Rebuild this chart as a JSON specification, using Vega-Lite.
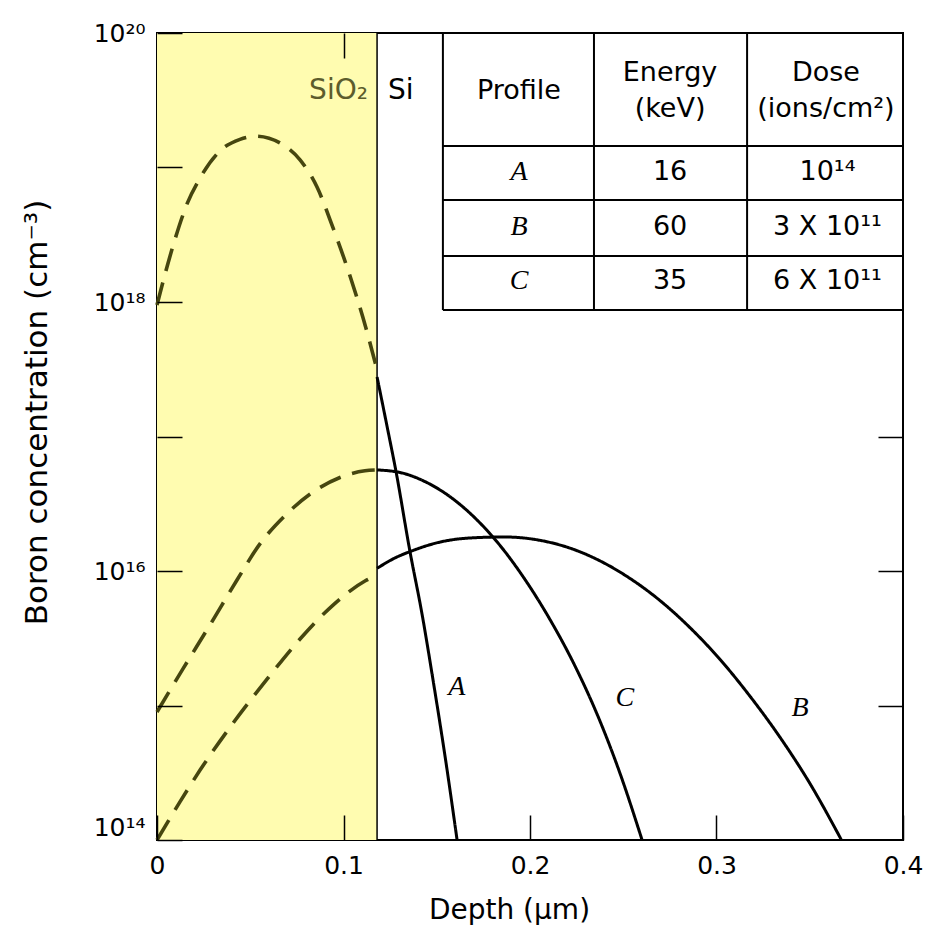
{
  "$schema": "https://vega.github.io/schema/vega-lite/v6.json",
  "width": 746,
  "height": 807,
  "autosize": "none",
  "padding": {"left": 157, "top": 33, "right": 30, "bottom": 93},
  "background": "#ffffff",
  "config": {
    "font": "DejaVu Sans",
    "view": {"stroke": "#000000", "strokeWidth": 2},
    "axis": {"grid": false, "domain": false, "labelFlush": false, "labelColor": "#000000", "titleColor": "#000000", "tickColor": "#000000", "tickWidth": 1.5, "labelFont": "DejaVu Sans", "titleFont": "DejaVu Sans", "labelFontSize": 25, "titleFontSize": 28, "titleFontWeight": "normal"},
    "text": {"font": "DejaVu Sans"}
  },
  "datasets": {
    "oxide": [{"start": 0, "end": 0.118}],
    "profiles": [
      {"profile": "A", "region": "SiO2", "depth": 0, "conc": 9.51e17},
      {"profile": "A", "region": "SiO2", "depth": 0.0043, "conc": 1.61e18},
      {"profile": "A", "region": "SiO2", "depth": 0.0097, "conc": 2.94e18},
      {"profile": "A", "region": "SiO2", "depth": 0.0161, "conc": 5.36e18},
      {"profile": "A", "region": "SiO2", "depth": 0.0231, "conc": 8.36e18},
      {"profile": "A", "region": "SiO2", "depth": 0.0338, "conc": 1.33e19},
      {"profile": "A", "region": "SiO2", "depth": 0.0445, "conc": 1.62e19},
      {"profile": "A", "region": "SiO2", "depth": 0.0531, "conc": 1.71e19},
      {"profile": "A", "region": "SiO2", "depth": 0.066, "conc": 1.52e19},
      {"profile": "A", "region": "SiO2", "depth": 0.0767, "conc": 1.14e19},
      {"profile": "A", "region": "SiO2", "depth": 0.0858, "conc": 7.16e18},
      {"profile": "A", "region": "SiO2", "depth": 0.0944, "conc": 3.55e18},
      {"profile": "A", "region": "SiO2", "depth": 0.1035, "conc": 1.56e18},
      {"profile": "A", "region": "SiO2", "depth": 0.1105, "conc": 7.6e17},
      {"profile": "A", "region": "SiO2", "depth": 0.118, "conc": 3.12e17},
      {"profile": "A", "region": "Si", "depth": 0.118, "conc": 2.77e17},
      {"profile": "A", "region": "Si", "depth": 0.1232, "conc": 1.22e17},
      {"profile": "A", "region": "Si", "depth": 0.1283, "conc": 5.36e16},
      {"profile": "A", "region": "Si", "depth": 0.1355, "conc": 1.43e16},
      {"profile": "A", "region": "Si", "depth": 0.1422, "conc": 4.71e15},
      {"profile": "A", "region": "Si", "depth": 0.148, "conc": 1.55e15},
      {"profile": "A", "region": "Si", "depth": 0.155, "conc": 3.73e14},
      {"profile": "A", "region": "Si", "depth": 0.1609, "conc": 1.0e14},
      {"profile": "B", "region": "SiO2", "depth": 0, "conc": 1.0e14},
      {"profile": "B", "region": "SiO2", "depth": 0.0123, "conc": 1.92e14},
      {"profile": "B", "region": "SiO2", "depth": 0.0231, "conc": 3.31e14},
      {"profile": "B", "region": "SiO2", "depth": 0.0408, "conc": 7.41e14},
      {"profile": "B", "region": "SiO2", "depth": 0.059, "conc": 1.57e15},
      {"profile": "B", "region": "SiO2", "depth": 0.0767, "conc": 3.12e15},
      {"profile": "B", "region": "SiO2", "depth": 0.0944, "conc": 5.58e15},
      {"profile": "B", "region": "SiO2", "depth": 0.1115, "conc": 8.43e15},
      {"profile": "B", "region": "SiO2", "depth": 0.118, "conc": 9.33e15},
      {"profile": "B", "region": "Si", "depth": 0.118, "conc": 1.047e16},
      {"profile": "B", "region": "Si", "depth": 0.1276, "conc": 1.25e16},
      {"profile": "B", "region": "Si", "depth": 0.1366, "conc": 1.41e16},
      {"profile": "B", "region": "Si", "depth": 0.1517, "conc": 1.64e16},
      {"profile": "B", "region": "Si", "depth": 0.1678, "conc": 1.76e16},
      {"profile": "B", "region": "Si", "depth": 0.1866, "conc": 1.79e16},
      {"profile": "B", "region": "Si", "depth": 0.2054, "conc": 1.69e16},
      {"profile": "B", "region": "Si", "depth": 0.2214, "conc": 1.48e16},
      {"profile": "B", "region": "Si", "depth": 0.2375, "conc": 1.19e16},
      {"profile": "B", "region": "Si", "depth": 0.2536, "conc": 8.81e15},
      {"profile": "B", "region": "Si", "depth": 0.2697, "conc": 6.03e15},
      {"profile": "B", "region": "Si", "depth": 0.2858, "conc": 3.79e15},
      {"profile": "B", "region": "Si", "depth": 0.3019, "conc": 2.2e15},
      {"profile": "B", "region": "Si", "depth": 0.318, "conc": 1.17e15},
      {"profile": "B", "region": "Si", "depth": 0.3341, "conc": 5.79e14},
      {"profile": "B", "region": "Si", "depth": 0.3501, "conc": 2.63e14},
      {"profile": "B", "region": "Si", "depth": 0.367, "conc": 1.0e14},
      {"profile": "C", "region": "SiO2", "depth": 0, "conc": 8.95e14},
      {"profile": "C", "region": "SiO2", "depth": 0.0139, "conc": 1.87e15},
      {"profile": "C", "region": "SiO2", "depth": 0.0284, "conc": 3.97e15},
      {"profile": "C", "region": "SiO2", "depth": 0.0429, "conc": 8.57e15},
      {"profile": "C", "region": "SiO2", "depth": 0.0552, "conc": 1.59e16},
      {"profile": "C", "region": "SiO2", "depth": 0.0686, "conc": 2.58e16},
      {"profile": "C", "region": "SiO2", "depth": 0.0836, "conc": 3.86e16},
      {"profile": "C", "region": "SiO2", "depth": 0.0981, "conc": 4.96e16},
      {"profile": "C", "region": "SiO2", "depth": 0.1115, "conc": 5.56e16},
      {"profile": "C", "region": "SiO2", "depth": 0.118, "conc": 5.64e16},
      {"profile": "C", "region": "Si", "depth": 0.118, "conc": 5.64e16},
      {"profile": "C", "region": "Si", "depth": 0.1303, "conc": 5.4e16},
      {"profile": "C", "region": "Si", "depth": 0.1437, "conc": 4.62e16},
      {"profile": "C", "region": "Si", "depth": 0.1571, "conc": 3.57e16},
      {"profile": "C", "region": "Si", "depth": 0.1705, "conc": 2.48e16},
      {"profile": "C", "region": "Si", "depth": 0.1839, "conc": 1.55e16},
      {"profile": "C", "region": "Si", "depth": 0.1973, "conc": 8.65e15},
      {"profile": "C", "region": "Si", "depth": 0.2107, "conc": 4.36e15},
      {"profile": "C", "region": "Si", "depth": 0.2241, "conc": 1.97e15},
      {"profile": "C", "region": "Si", "depth": 0.2375, "conc": 7.67e14},
      {"profile": "C", "region": "Si", "depth": 0.2483, "conc": 3.12e14},
      {"profile": "C", "region": "Si", "depth": 0.2601, "conc": 1.0e14}
    ],
    "tableGrid": [
      {"x1": 0.1533, "x2": 0.4, "y1": 1.445e19, "y2": 1.445e19},
      {"x1": 0.1533, "x2": 0.4, "y1": 5.73e18, "y2": 5.73e18},
      {"x1": 0.1533, "x2": 0.4, "y1": 2.2e18, "y2": 2.2e18},
      {"x1": 0.1533, "x2": 0.4, "y1": 8.73e17, "y2": 8.73e17},
      {"x1": 0.1533, "x2": 0.1533, "y1": 1e20, "y2": 8.73e17},
      {"x1": 0.2343, "x2": 0.2343, "y1": 1e20, "y2": 8.73e17},
      {"x1": 0.3164, "x2": 0.3164, "y1": 1e20, "y2": 8.73e17}
    ],
    "tableText": [
      {"x": 0.1941, "y": 3.71e19, "label": "Profile"},
      {"x": 0.2751, "y": 5.08e19, "label": "Energy"},
      {"x": 0.2751, "y": 2.72e19, "label": "(keV)"},
      {"x": 0.3587, "y": 5.08e19, "label": "Dose"},
      {"x": 0.3587, "y": 2.72e19, "label": "(ions/cm²)"},
      {"x": 0.2751, "y": 9.18e18, "label": "16"},
      {"x": 0.2751, "y": 3.61e18, "label": "60"},
      {"x": 0.2751, "y": 1.43e18, "label": "35"},
      {"x": 0.3595, "y": 9.18e18, "label": "10¹⁴"},
      {"x": 0.3595, "y": 3.61e18, "label": "3 X 10¹¹"},
      {"x": 0.3595, "y": 1.43e18, "label": "6 X 10¹¹"}
    ],
    "letters": [
      {"x": 0.1941, "y": 9.18e18, "label": "A"},
      {"x": 0.1941, "y": 3.61e18, "label": "B"},
      {"x": 0.1941, "y": 1.43e18, "label": "C"},
      {"x": 0.1607, "y": 1.38e15, "label": "A"},
      {"x": 0.2509, "y": 1.14e15, "label": "C"},
      {"x": 0.3448, "y": 9.57e14, "label": "B"}
    ],
    "regionLabels": [
      {"x": 0.1131, "y": 3.71e19, "label": "SiO₂", "region": "SiO2"},
      {"x": 0.1239, "y": 3.71e19, "label": "Si", "region": "Si"}
    ]
  },
  "layer": [
    {
      "data": {"name": "oxide"},
      "mark": {"type": "rect", "fill": "#fffcb0"},
      "encoding": {
        "x": {"field": "start", "type": "quantitative", "scale": {"domain": [0, 0.4], "nice": false, "zero": false}, "axis": null},
        "x2": {"field": "end"}
      }
    },
    {
      "data": {"name": "oxide"},
      "mark": {"type": "rule", "stroke": "#000000", "strokeWidth": 1.5},
      "encoding": {
        "x": {"field": "end", "type": "quantitative", "axis": null}
      }
    },
    {
      "data": {"name": "profiles"},
      "mark": {"type": "line", "interpolate": "monotone", "strokeCap": "butt"},
      "encoding": {
        "x": {"field": "depth", "type": "quantitative", "scale": {"domain": [0, 0.4], "nice": false, "zero": false},
          "axis": {"orient": "bottom", "zindex": 1, "values": [0, 0.1, 0.2, 0.3, 0.4], "format": "~g", "tickSize": -25, "labelPadding": 38, "title": "Depth (μm)", "titleX": 352, "titleY": 70, "titleBaseline": "middle"}},
        "y": {"field": "conc", "type": "quantitative", "scale": {"type": "log", "domain": [1e14, 1e20], "nice": false},
          "axis": {"orient": "left", "zindex": 1, "values": [1e14, 1e15, 1e16, 1e17, 1e18, 1e19, 1e20], "tickSize": -25, "labelPadding": 37,
            "labelExpr": "round(log(datum.value)/LN10) == 14 ? '10¹⁴' : round(log(datum.value)/LN10) == 16 ? '10¹⁶' : round(log(datum.value)/LN10) == 18 ? '10¹⁸' : round(log(datum.value)/LN10) == 20 ? '10²⁰' : ''",
            "labelBaseline": {"condition": {"test": "datum.value < 2e14", "value": "bottom"}, "value": "middle"},
            "title": "Boron concentration (cm⁻³)", "titleFontSize": 31, "titleX": -120, "titleY": 379, "titleBaseline": "middle"}},
        "color": {"field": "region", "type": "nominal", "scale": {"domain": ["SiO2", "Si"], "range": ["#46460f", "#000000"]}, "legend": null},
        "strokeDash": {"field": "region", "type": "nominal", "scale": {"domain": ["SiO2", "Si"], "range": [[23, 12], [1, 0]]}, "legend": null},
        "strokeWidth": {"field": "region", "type": "nominal", "scale": {"domain": ["SiO2", "Si"], "range": [3.6, 3]}, "legend": null},
        "detail": {"field": "profile"}
      }
    },
    {
      "data": {"name": "tableGrid"},
      "mark": {"type": "rule", "stroke": "#000000", "strokeWidth": 2},
      "encoding": {
        "x": {"field": "x1", "type": "quantitative", "axis": {"orient": "top", "zindex": 1, "values": [0.1], "labels": false, "tickSize": -25, "title": null}},
        "x2": {"field": "x2"},
        "y": {"field": "y1", "type": "quantitative", "axis": {"orient": "right", "zindex": 1, "values": [1e15, 1e16, 1e17], "labels": false, "tickSize": -25, "title": null}},
        "y2": {"field": "y2"}
      }
    },
    {
      "data": {"name": "tableText"},
      "mark": {"type": "text", "fontSize": 27, "align": "center", "baseline": "middle", "color": "#000000"},
      "encoding": {
        "x": {"field": "x", "type": "quantitative", "axis": null},
        "y": {"field": "y", "type": "quantitative", "axis": null},
        "text": {"field": "label"}
      }
    },
    {
      "data": {"name": "letters"},
      "mark": {"type": "text", "font": "Liberation Serif", "fontStyle": "italic", "fontSize": 28, "align": "center", "baseline": "middle", "color": "#000000"},
      "encoding": {
        "x": {"field": "x", "type": "quantitative", "axis": null},
        "y": {"field": "y", "type": "quantitative", "axis": null},
        "text": {"field": "label"}
      }
    },
    {
      "data": {"name": "regionLabels"},
      "transform": [{"filter": "datum.region == 'SiO2'"}],
      "mark": {"type": "text", "fontSize": 28, "align": "right", "baseline": "middle", "color": "#5c5c2c"},
      "encoding": {
        "x": {"field": "x", "type": "quantitative", "axis": null},
        "y": {"field": "y", "type": "quantitative", "axis": null},
        "text": {"field": "label"}
      }
    },
    {
      "data": {"name": "regionLabels"},
      "transform": [{"filter": "datum.region == 'Si'"}],
      "mark": {"type": "text", "fontSize": 28, "align": "left", "baseline": "middle", "color": "#000000"},
      "encoding": {
        "x": {"field": "x", "type": "quantitative", "axis": null},
        "y": {"field": "y", "type": "quantitative", "axis": null},
        "text": {"field": "label"}
      }
    }
  ],
  "resolve": {"axis": {"x": "independent", "y": "independent"}}
}
